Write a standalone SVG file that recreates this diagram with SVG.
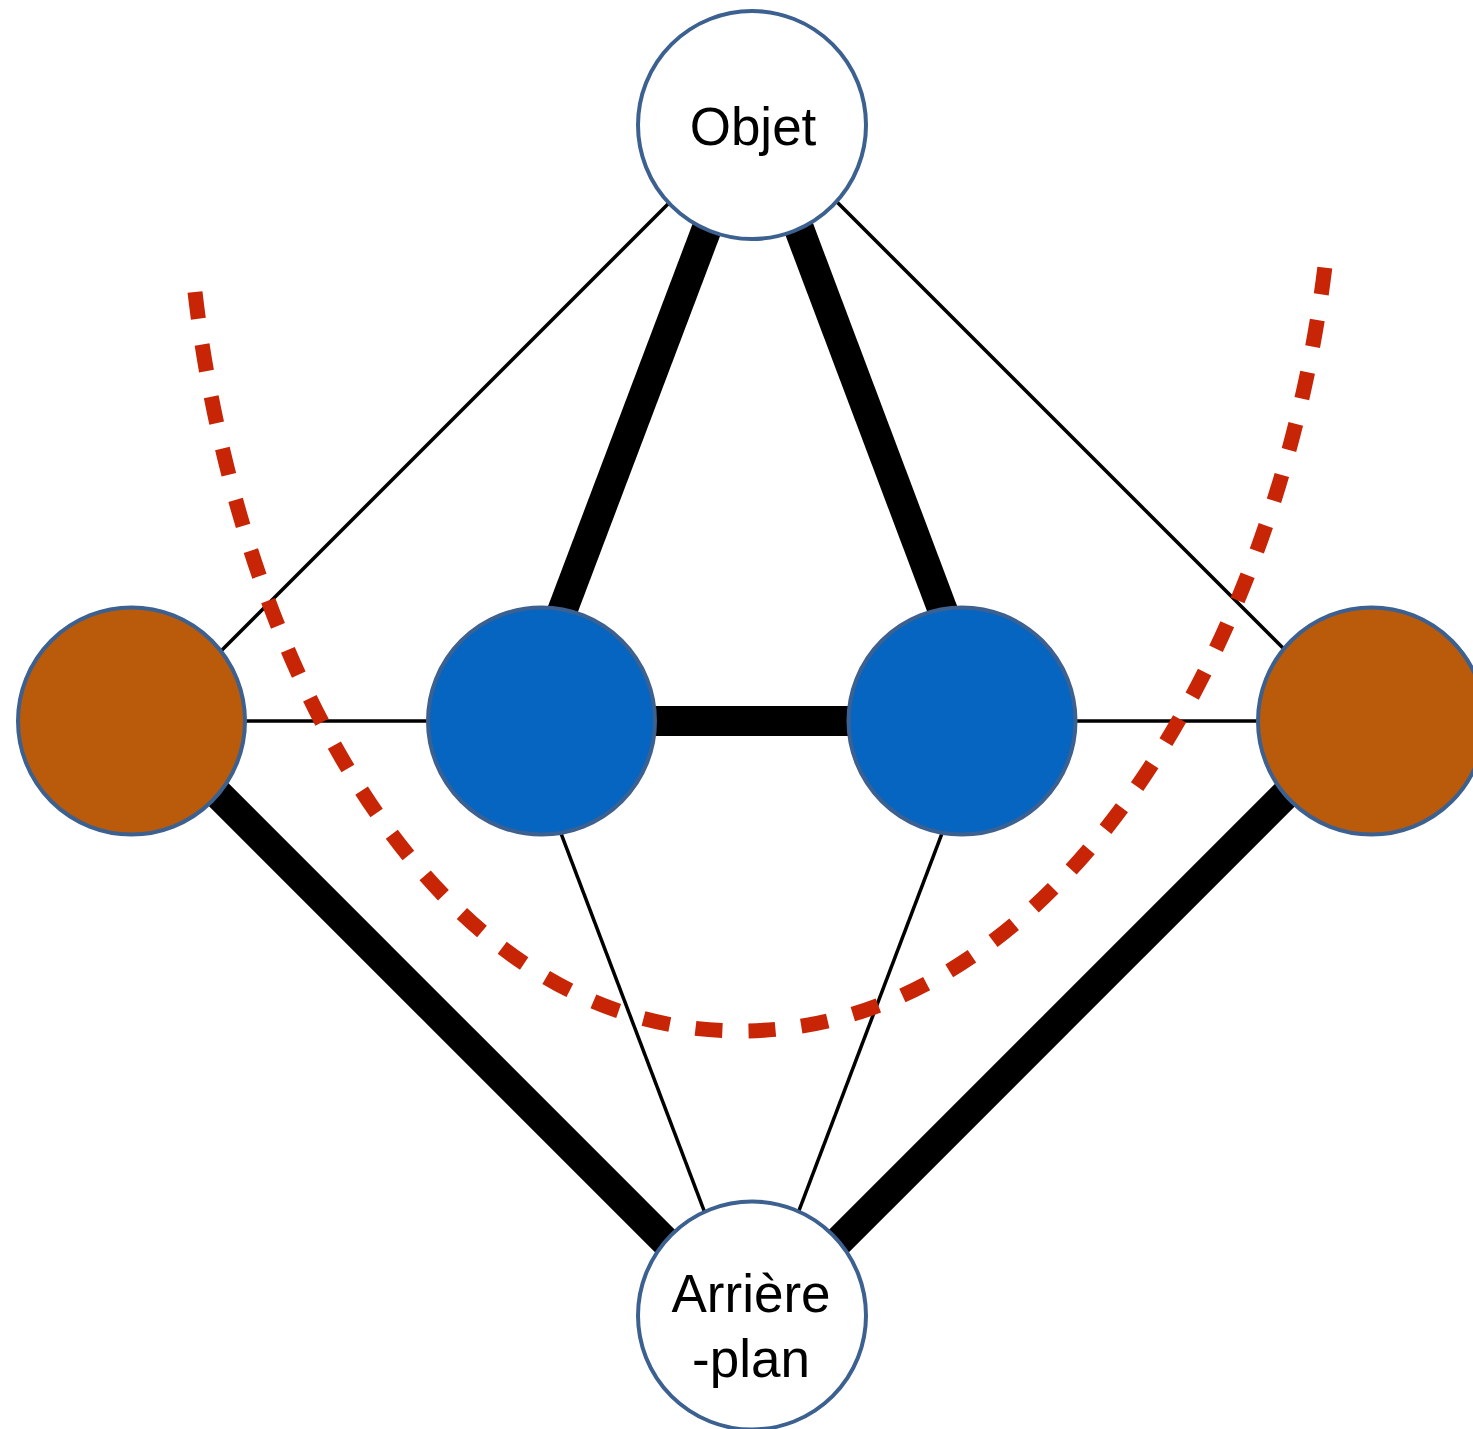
<svg xmlns="http://www.w3.org/2000/svg" width="1473" height="1429" viewBox="0 0 1473 1429">
  <style>
    .thin { stroke: #000; stroke-width: 3.5; fill: none; }
    .thick { stroke: #000; stroke-width: 30; fill: none; }
    .node { stroke: #3C6190; stroke-width: 4; }
    .white { fill: #FFFFFF; }
    .blue { fill: #0565C0; }
    .orange { fill: #BA5B0C; }
    .label { font-family: "Liberation Sans", Arial, sans-serif; font-size: 53px; fill: #000; text-anchor: middle; }
    .cut { stroke: #C82506; stroke-width: 15; fill: none; stroke-dasharray: 27 26; }
  </style>
  <rect width="1473" height="1429" fill="#FFFFFF"/>
  <g id="connectors">
    <line class="thin" x1="747" y1="125" x2="152" y2="720"/>
    <line class="thin" x1="760" y1="125" x2="1355" y2="720"/>
    <line class="thick" x1="746" y1="125" x2="521" y2="720"/>
    <line class="thick" x1="760" y1="125" x2="984" y2="720"/>
    <line class="thin" x1="131" y1="721" x2="541" y2="721"/>
    <line class="thick" x1="541" y1="721" x2="962" y2="721"/>
    <line class="thin" x1="962" y1="721" x2="1371" y2="721"/>
    <line class="thin" x1="518" y1="720" x2="744" y2="1316"/>
    <line class="thin" x1="985" y1="720" x2="759" y2="1316"/>
    <line class="thick" x1="144" y1="720" x2="740" y2="1316"/>
    <line class="thick" x1="1360" y1="720" x2="764" y2="1316"/>
  </g>
  <g id="node-objet">
    <circle class="node white" cx="752" cy="125" r="114"/>
    <text class="label" x="753" y="145">Objet</text>
  </g>
  <g id="node-orange-left">
    <circle class="node orange" cx="131.5" cy="721" r="113.5"/>
  </g>
  <g id="node-blue-left">
    <circle class="node blue" cx="541.5" cy="721" r="113.5"/>
  </g>
  <g id="node-blue-right">
    <circle class="node blue" cx="962" cy="721" r="113.5"/>
  </g>
  <g id="node-orange-right">
    <circle class="node orange" cx="1371.5" cy="721" r="113.5"/>
  </g>
  <g id="node-arriere-plan">
    <circle class="node white" cx="752" cy="1315.5" r="114"/>
    <text class="label" x="751" y="1312">Arrière</text>
    <text class="label" x="751" y="1377">-plan</text>
  </g>
  <path id="cut-curve" class="cut" d="M195,292 C235,640 420,1031 740,1031 C1060,1031 1280,640 1325,266"/>
</svg>
